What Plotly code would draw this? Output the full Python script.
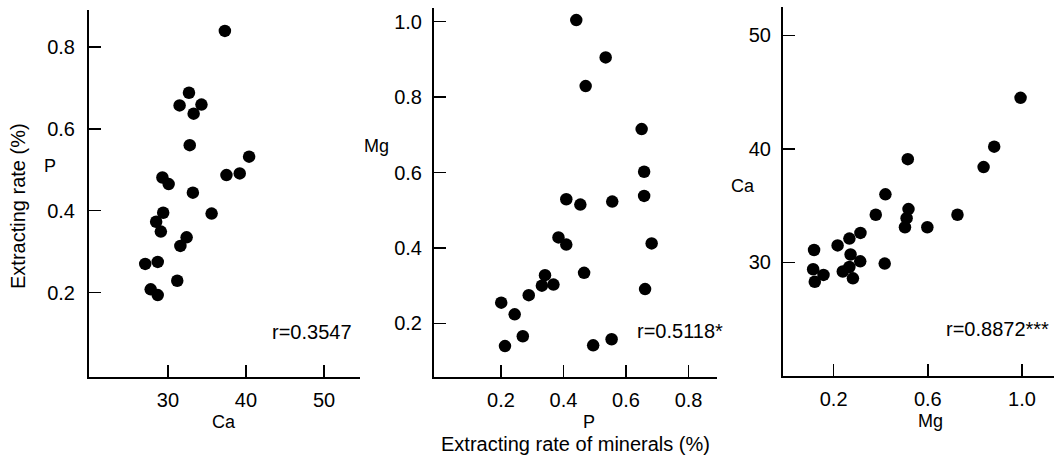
import plotly.graph_objects as go

W, H = 1064, 459

# Panel 1: P vs Ca
ca_1 = [37.3, 32.7, 31.5, 34.3, 33.3, 32.8, 40.4, 37.5, 39.2, 29.3, 30.1, 33.2,
        35.6, 29.4, 28.5, 29.1, 32.4, 31.6, 27.1, 28.7, 31.2, 27.8, 28.7]
p_1 = [0.839, 0.688, 0.657, 0.659, 0.637, 0.560, 0.532, 0.487, 0.491, 0.481, 0.465, 0.444,
       0.393, 0.395, 0.373, 0.349, 0.335, 0.314, 0.270, 0.275, 0.229, 0.208, 0.194]

# Panel 2: Mg vs P
p_2 = [0.441, 0.535, 0.471, 0.650, 0.658, 0.658, 0.409, 0.454, 0.556, 0.384, 0.409, 0.682,
       0.466, 0.341, 0.331, 0.368, 0.289, 0.661, 0.201, 0.244, 0.270, 0.213, 0.495, 0.554]
mg_2 = [1.004, 0.905, 0.829, 0.715, 0.602, 0.538, 0.529, 0.515, 0.523, 0.428, 0.409, 0.412,
        0.334, 0.328, 0.300, 0.303, 0.275, 0.291, 0.255, 0.224, 0.166, 0.140, 0.142, 0.158]

# Panel 3: Ca vs Mg
mg_3 = [0.994, 0.882, 0.837, 0.515, 0.420, 0.379, 0.518, 0.510, 0.503, 0.598, 0.726, 0.314,
        0.267, 0.217, 0.117, 0.272, 0.313, 0.417, 0.267, 0.239, 0.113, 0.157, 0.120, 0.282]
ca_3 = [44.5, 40.2, 38.4, 39.1, 36.0, 34.2, 34.7, 33.9, 33.1, 33.1, 34.2, 32.6,
        32.1, 31.5, 31.1, 30.7, 30.1, 29.9, 29.6, 29.2, 29.4, 28.9, 28.3, 28.6]

x1_ticks = [30, 40, 50]
y1_ticks = [0.2, 0.4, 0.6, 0.8]
x2_ticks = [0.2, 0.4, 0.6, 0.8]
y2_ticks = [0.2, 0.4, 0.6, 0.8, 1.0]
x3_ticks = [0.2, 0.6, 1.0]
y3_ticks = [30, 40, 50]

r_labels = ["r=0.3547", "r=0.5118*", "r=0.8872***"]

FONT = "Liberation Sans, Arial, sans-serif"
marker = dict(color="black", size=12.5)

fig = go.Figure()
fig.add_trace(go.Scatter(x=ca_1, y=p_1, mode="markers", marker=marker, xaxis="x", yaxis="y"))
fig.add_trace(go.Scatter(x=p_2, y=mg_2, mode="markers", marker=marker, xaxis="x2", yaxis="y2"))
fig.add_trace(go.Scatter(x=mg_3, y=ca_3, mode="markers", marker=marker, xaxis="x3", yaxis="y3"))


def px_x(v):
    return v / W


def px_y(v):
    return 1 - v / H


def axis(domain, rng, ticks, fmt, anchor, standoff):
    return dict(
        domain=domain, range=rng, tickvals=ticks, tickformat=fmt, anchor=anchor,
        showline=True, linecolor="black", linewidth=2, mirror=False,
        ticks="inside", ticklen=12, tickwidth=1.5, tickcolor="black",
        showgrid=False, zeroline=False, fixedrange=True,
        tickfont=dict(family=FONT, size=20, color="black"),
        ticklabelstandoff=standoff,
    )


layout = dict(
    width=W, height=H, margin=dict(l=0, r=0, t=0, b=0),
    paper_bgcolor="white", plot_bgcolor="white", showlegend=False,
    xaxis=axis([px_x(89), px_x(360)], [19.9, 54.6], x1_ticks, "d", "y", 4),
    yaxis=axis([px_y(377), px_y(10)], [-0.006, 0.89], y1_ticks, ".1f", "x", 8),
    xaxis2=axis([px_x(434), px_x(717)], [-0.014, 0.891], x2_ticks, ".1f", "y2", 4),
    yaxis2=axis([px_y(377), px_y(8)], [0.058, 1.036], y2_ticks, ".1f", "x2", 6),
    xaxis3=axis([px_x(783), px_x(1054)], [-0.015, 1.136], x3_ticks, ".1f", "y3", 4),
    yaxis3=axis([px_y(376), px_y(7)], [20, 52.5], y3_ticks, "d", "x3", 6),
)
fig.update_layout(**layout)

texts = [
    ("Extracting rate (%)", 18, 206, 20, -90),
    ("P", 49.5, 165.5, 18, 0),
    ("Ca", 224, 422, 18, 0),
    ("Mg", 376, 146, 18, 0),
    ("P", 589, 422, 18, 0),
    ("Extracting rate of minerals (%)", 575.5, 444, 20, 0),
    ("Ca", 742.5, 186.5, 18, 0),
    ("Mg", 930, 421, 18, 0),
    (r_labels[0], 312, 332, 20, 0),
    (r_labels[1], 680, 331, 20, 0),
    (r_labels[2], 997, 329, 20, 0),
]
for t, x, y, s, ang in texts:
    fig.add_annotation(text=t, x=px_x(x), y=px_y(y), xref="paper", yref="paper",
                       xanchor="center", yanchor="middle", showarrow=False, textangle=ang,
                       font=dict(family=FONT, size=s, color="black"))

fig.write_html("out.html", config={"displayModeBar": False, "staticPlot": True},
               post_script="document.body.style.margin='0';document.body.style.overflow='hidden';")
